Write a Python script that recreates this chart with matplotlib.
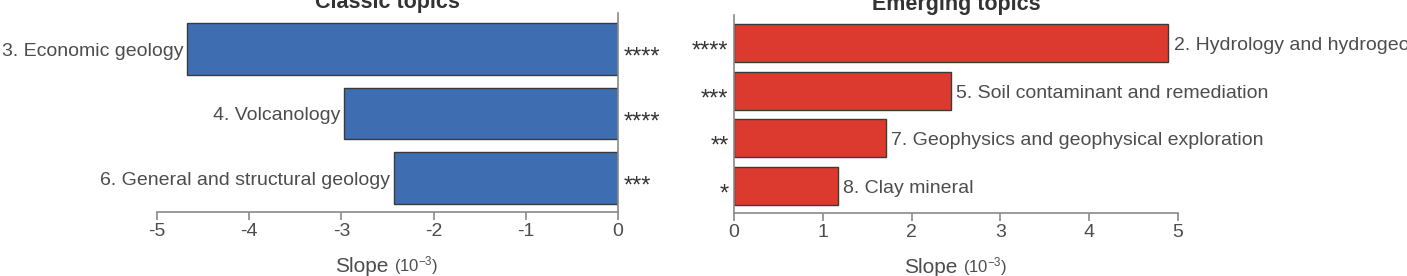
import matplotlib
matplotlib.use("Agg")
import matplotlib.pyplot as plt

plt.rcParams["font.family"] = ["Liberation Sans", "DejaVu Sans"]
plt.rcParams["mathtext.default"] = "regular"
plt.rcParams["axes.unicode_minus"] = False

# Data
classic_topics = ["3. Economic geology", "4. Volcanology", "6. General and structural geology"]
classic_slopes = [-4.67, -2.97, -2.43]
classic_sig = ["****", "****", "***"]

emerging_topics = ["2. Hydrology and hydrogeology", "5. Soil contaminant and remediation",
                   "7. Geophysics and geophysical exploration", "8. Clay mineral"]
emerging_slopes = [4.89, 2.44, 1.71, 1.17]
emerging_sig = ["****", "***", "**", "*"]

classic_ticks = [-5, -4, -3, -2, -1, 0]
emerging_ticks = [0, 1, 2, 3, 4, 5]

BLUE = "#3e6db2"
RED = "#dc3a2e"
TEXT = "#4d4d4d"
SPINE = "#8a8a8a"
FS = 14

fig = plt.figure(figsize=(14.07, 2.76), dpi=100)
ax1 = fig.add_axes([157 / 1407, 64 / 276, 461 / 1407, 199 / 276])
ax2 = fig.add_axes([734 / 1407, 63 / 276, 444 / 1407, 198 / 276])


def style(ax, ticks, keep):
    for side in ["top", "bottom", "left", "right"]:
        ax.spines[side].set_visible(side in keep)
        ax.spines[side].set_color(SPINE)
        ax.spines[side].set_linewidth(1.2)
    ax.set_xticks(ticks)
    ax.set_xticklabels([str(t) for t in ticks])
    ax.tick_params(axis="x", length=6, width=1.2, color=SPINE, pad=2,
                   labelsize=FS, labelcolor=TEXT)
    ax.set_yticks([])
    ax.annotate("Slope", xy=(0.5, 0), xycoords="axes fraction", xytext=(1, -43),
                textcoords="offset points", ha="right", va="baseline",
                fontsize=15, color=TEXT)
    ax.annotate("(10$^{-3}$)", xy=(0.5, 0), xycoords="axes fraction", xytext=(5, -43),
                textcoords="offset points", ha="left", va="baseline",
                fontsize=12, color=TEXT)


# Classic topics
ypos1 = range(len(classic_topics))
ax1.barh(ypos1, classic_slopes, height=0.8, color=BLUE, edgecolor="#3a3a3a", linewidth=1)
ax1.set_xlim(-5, 0)
ax1.set_ylim(2.53, -0.56)
style(ax1, classic_ticks, ["bottom", "right"])
for i, (lab, v, s) in enumerate(zip(classic_topics, classic_slopes, classic_sig)):
    ax1.annotate(lab, xy=(v, i), xytext=(-3, -0.36 * FS), textcoords="offset points",
                 ha="right", va="baseline", fontsize=FS, color=TEXT, annotation_clip=False)
    ax1.annotate(s, xy=(0, i), xytext=(4, -0.62 * 17), textcoords="offset points",
                 ha="left", va="baseline", fontsize=17, color="#333333", annotation_clip=False)
ax1.set_title("Classic topics", fontsize=15.5, fontweight="bold", color="#333333", pad=2)

# Emerging topics
ypos2 = range(len(emerging_topics))
ax2.barh(ypos2, emerging_slopes, height=0.8, color=RED, edgecolor="#3a3a3a", linewidth=1)
ax2.set_xlim(0, 5)
ax2.set_ylim(3.57, -0.59)
style(ax2, emerging_ticks, ["bottom", "left"])
for i, (lab, v, s) in enumerate(zip(emerging_topics, emerging_slopes, emerging_sig)):
    ax2.annotate(lab, xy=(v, i), xytext=(4, -0.36 * FS), textcoords="offset points",
                 ha="left", va="baseline", fontsize=FS, color=TEXT, annotation_clip=False)
    ax2.annotate(s, xy=(0, i), xytext=(-4, -0.62 * 17), textcoords="offset points",
                 ha="right", va="baseline", fontsize=17, color="#333333", annotation_clip=False)
ax2.set_title("Emerging topics", fontsize=15.5, fontweight="bold", color="#333333", pad=3.5)

fig.savefig("out.png", dpi=100)
